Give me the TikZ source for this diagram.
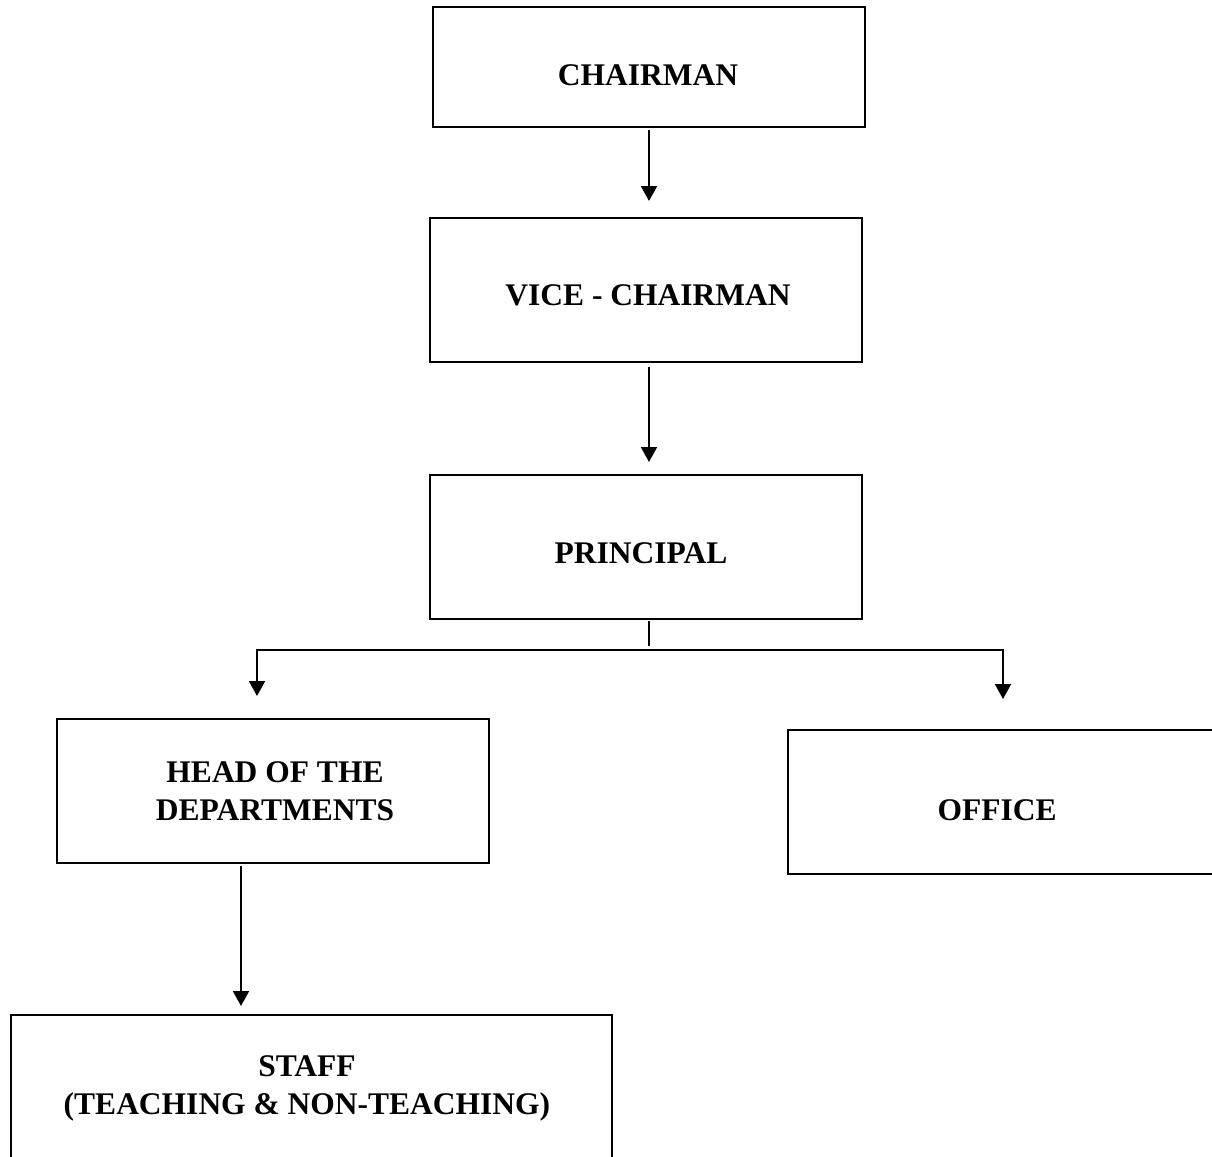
\documentclass[tikz,border=0pt]{standalone}
\usepackage{fontspec}
\setmainfont{Liberation Serif}
\usetikzlibrary{arrows.meta}
\begin{document}
\begin{tikzpicture}[x=0.5pt,y=-0.5pt,
  box/.style={draw, line width=1pt, inner sep=0pt},
  lbl/.style={inner sep=0pt, font=\fontsize{15.75pt}{19pt}\selectfont\bfseries, align=center},
  arr/.style={line width=1pt, -{Triangle[width=8pt,length=7.5pt]}},
  ln/.style={line width=1pt}]
\useasboundingbox[fill=white] (0,0) rectangle (1212,1157);
% boxes
\node[box, minimum width=216pt, minimum height=60pt] (chair) at (649,67) {};
\node[box, minimum width=216pt, minimum height=72pt] (vice) at (646,290) {};
\node[box, minimum width=216pt, minimum height=72pt] (prin) at (646,547) {};
\node[box, minimum width=216pt, minimum height=72pt] (hod) at (273,791) {};
\node[box, minimum width=226pt, minimum height=72pt] (office) at (1014,802) {};
\node[box, minimum width=300.5pt, minimum height=82.5pt] (staff) at (311.5,1097.5) {};
% labels
\node[lbl, anchor=base] (chairT) at (648,85) {CHAIRMAN};
\node[lbl, anchor=base] (viceT) at (648,305) {VICE - CHAIRMAN};
\node[lbl, anchor=base] (prinT) at (641,563) {PRINCIPAL};
\node[lbl] (hodT) at (275,791) {HEAD OF THE\\DEPARTMENTS};
\node[lbl, anchor=base] (officeT) at (997,820) {OFFICE};
\node[lbl] (staffT) at (307,1088) {STAFF\\(TEACHING \& NON-TEACHING)};
% connectors
\coordinate (a1) at (649,130);
\coordinate (a2) at (649,367);
\draw[arr] (a1) -- ([yshift=8pt]a1 |- vice.north);
\draw[arr] (a2) -- ([yshift=6pt]a2 |- prin.north);
\coordinate (stem) at (649,621);
\coordinate (jc) at (649,650);
\coordinate (jl) at (257,650);
\coordinate (jr) at (1003,650);
\draw[ln] (stem) -- ([yshift=2pt]jc);
\draw[ln] ([xshift=-0.5pt]jl) -- ([xshift=0.5pt]jr);
\draw[arr] (jl) -- ([yshift=11pt]jl |- hod.north);
\draw[arr] (jr) -- ([yshift=15pt]jr |- office.north);
\coordinate (a3) at (241,866);
\draw[arr] (a3) -- ([yshift=4pt]a3 |- staff.north);
\end{tikzpicture}
\end{document}
